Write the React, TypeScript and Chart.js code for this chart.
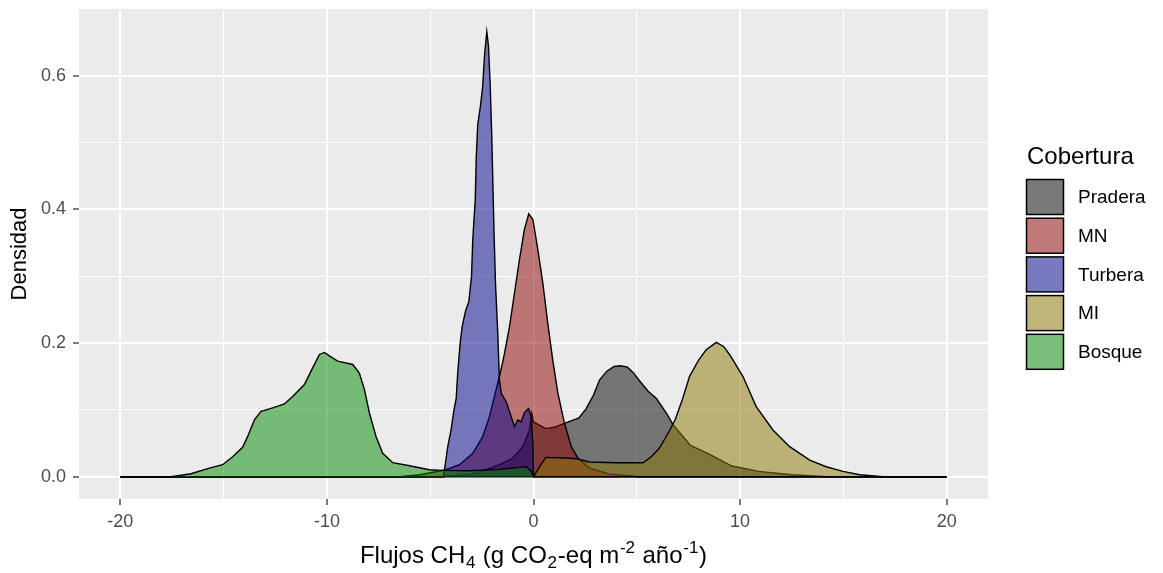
import React, { useEffect, useRef } from 'react';
import { Chart, registerables } from 'chart.js';

Chart.register(...registerables);

// ---------- data ----------
const categories = ['Pradera', 'MN', 'Turbera', 'MI', 'Bosque'];
const fillColors = [
  'rgba(0,0,0,0.5)',
  'rgba(139,0,0,0.5)',
  'rgba(0,0,139,0.5)',
  'rgba(139,117,0,0.5)',
  'rgba(0,139,0,0.5)',
];

const praderaX = [-20, -4.5, -3.0, -2.1, -1.5, -1.0, -0.52, -0.19, -0.08, 0.0, 0.3, 0.6, 1.0, 1.5, 2.2, 2.55, 2.9, 3.2, 3.55, 3.9, 4.2, 4.55, 4.85, 5.15, 5.55, 5.95, 6.44, 6.75, 7.6, 8.5, 9.6, 10.9, 12.5, 14.2, 20];
const praderaY = [0, 0, 0.004, 0.013, 0.02, 0.028, 0.045, 0.07, 0.095, 0.082, 0.077, 0.072, 0.074, 0.08, 0.088, 0.102, 0.122, 0.145, 0.158, 0.165, 0.166, 0.164, 0.155, 0.143, 0.128, 0.117, 0.095, 0.078, 0.047, 0.034, 0.016, 0.008, 0.003, 0, 0];

const mnX = [-20, -6.5, -5.5, -4.23, -3.58, -2.94, -2.46, -2.13, -1.73, -1.61, -1.40, -1.16, -0.92, -0.68, -0.44, -0.23, -0.03, 0.21, 0.45, 0.69, 0.93, 1.18, 1.50, 1.83, 2.15, 2.71, 3.68, 5.13, 20];
const mnY = [0, 0, 0.003, 0.0105, 0.018, 0.035, 0.06, 0.09, 0.14, 0.155, 0.185, 0.225, 0.275, 0.325, 0.37, 0.3935, 0.385, 0.34, 0.29, 0.23, 0.175, 0.125, 0.08, 0.045, 0.028, 0.013, 0.004, 0, 0];

const turberaX = [-20, -4.35, -4.31, -4.15, -3.99, -3.87, -3.74, -3.67, -3.55, -3.45, -3.29, -3.13, -3.00, -2.94, -2.82, -2.77, -2.70, -2.57, -2.46, -2.37, -2.26, -2.18, -2.10, -2.02, -1.96, -1.91, -1.84, -1.73, -1.65, -1.56, -1.32, -1.08, -0.92, -0.76, -0.60, -0.44, -0.24, -0.11, -0.03, 0, 20];
const turberaY = [0, 0, 0.0105, 0.045, 0.07, 0.096, 0.118, 0.155, 0.2, 0.225, 0.248, 0.262, 0.3, 0.355, 0.414, 0.479, 0.527, 0.554, 0.584, 0.631, 0.666, 0.645, 0.59, 0.51, 0.43, 0.365, 0.29, 0.215, 0.145, 0.125, 0.112, 0.09, 0.075, 0.085, 0.082, 0.096, 0.102, 0.09, 0.05, 0, 0];

const miX = [-20, 0, 0.3, 0.6, 1.5, 2.1, 2.7, 4.0, 5.3, 5.7, 6.1, 6.6, 6.85, 7.2, 7.55, 8.0, 8.36, 8.85, 9.2, 9.49, 10.14, 10.78, 11.59, 12.4, 13.37, 14.17, 14.98, 15.79, 16.92, 20];
const miY = [0, 0, 0.015, 0.029, 0.028, 0.027, 0.022, 0.021, 0.021, 0.03, 0.043, 0.07, 0.085, 0.115, 0.15, 0.175, 0.19, 0.201, 0.195, 0.183, 0.15, 0.105, 0.07, 0.045, 0.025, 0.015, 0.008, 0.003, 0, 0];

const bosqueX = [-20, -17.54, -16.58, -15.69, -15.05, -14.56, -14.08, -13.84, -13.51, -13.19, -12.62, -12.06, -11.66, -11.09, -10.69, -10.36, -10.12, -9.88, -9.48, -8.75, -8.43, -8.18, -7.94, -7.62, -7.30, -6.81, -6.00, -5.04, -4.39, -3.10, -1.65, -0.68, -0.34, -0.11, 0, 20];
const bosqueY = [0, 0, 0.0045, 0.013, 0.018, 0.030, 0.044, 0.060, 0.085, 0.098, 0.103, 0.109, 0.120, 0.138, 0.163, 0.183, 0.186, 0.181, 0.173, 0.168, 0.155, 0.130, 0.095, 0.060, 0.035, 0.021, 0.0165, 0.0105, 0.0095, 0.009, 0.011, 0.014, 0.015, 0.008, 0, 0];

const seriesX = [praderaX, mnX, turberaX, miX, bosqueX];
const seriesY = [praderaY, mnY, turberaY, miY, bosqueY];

const xMajorTicks = [-20, -10, 0, 10, 20];
const xMinorTicks = [-15, -5, 5, 15];
const xTickLabels = ['-20', '-10', '0', '10', '20'];
const yMajorTicks = [0, 0.2, 0.4, 0.6];
const yMinorTicks = [0.1, 0.3, 0.5];
const yTickLabels = ['0.0', '0.2', '0.4', '0.6'];

const yTitle = 'Densidad';
const xTitleParts = ['Flujos CH', '4', ' (g CO', '2', '-eq m', '-2', ' año', '-1', ')'];
const xTitleShifts = [0, -1, 0, -1, 0, 1, 0, 1, 0];
const legendTitle = 'Cobertura';

// ---------- layout ----------
const W = 1163;
const H = 573;
const FONT = '"Liberation Sans", Arial, Helvetica, sans-serif';

const idx = (arr: number[], v: number) => arr.findIndex((t) => Math.abs(t - v) < 1e-9);

const decor = {
  id: 'decor',
  beforeDraw(chart: any) {
    const { ctx, chartArea: a } = chart;
    ctx.save();
    ctx.fillStyle = '#FFFFFF';
    ctx.fillRect(0, 0, chart.width, chart.height);
    ctx.fillStyle = '#EBEBEB';
    ctx.fillRect(a.left, a.top, a.right - a.left, a.bottom - a.top);
    ctx.restore();
  },
  afterDraw(chart: any) {
    const { ctx, chartArea: a } = chart;
    // y title
    ctx.save();
    ctx.fillStyle = '#000000';
    ctx.font = `22px ${FONT}`;
    ctx.translate(26, (a.top + a.bottom) / 2);
    ctx.rotate(-Math.PI / 2);
    ctx.textAlign = 'center';
    ctx.textBaseline = 'alphabetic';
    ctx.fillText(yTitle, 0, 0);
    ctx.restore();

    // x title with sub/superscripts
    ctx.save();
    ctx.fillStyle = '#000000';
    ctx.textBaseline = 'alphabetic';
    ctx.textAlign = 'left';
    const mainFont = `24px ${FONT}`;
    const scriptFont = `17px ${FONT}`;
    let total = 0;
    const widths = xTitleParts.map((t, i) => {
      ctx.font = xTitleShifts[i] === 0 ? mainFont : scriptFont;
      const w = ctx.measureText(t).width + (xTitleShifts[i] === 0 ? 0 : 1.5);
      total += w;
      return w;
    });
    let x = (a.left + a.right) / 2 - total / 2;
    const base = 563;
    xTitleParts.forEach((t, i) => {
      const s = xTitleShifts[i];
      ctx.font = s === 0 ? mainFont : scriptFont;
      const y = s === 0 ? base : s < 0 ? base + 5 : base - 10;
      ctx.fillText(t, x + (s === 0 ? 0 : 0.75), y);
      x += widths[i];
    });
    ctx.restore();

    // legend
    ctx.save();
    ctx.fillStyle = '#000000';
    ctx.font = `24px ${FONT}`;
    ctx.textAlign = 'left';
    ctx.textBaseline = 'alphabetic';
    ctx.fillText(legendTitle, 1027, 164);
    const keyLeft = 1026.5;
    const keyTop = 179.5;
    const step = 38.7;
    const kw = 37;
    const kh = 35;
    categories.forEach((name, i) => {
      const top = keyTop + i * step;
      ctx.fillStyle = '#F2F2F2';
      ctx.fillRect(keyLeft, top, kw, kh);
      ctx.fillStyle = fillColors[i];
      ctx.fillRect(keyLeft, top, kw, kh);
      ctx.strokeStyle = '#000000';
      ctx.lineWidth = 1.5;
      ctx.strokeRect(keyLeft, top, kw, kh);
      ctx.fillStyle = '#000000';
      ctx.font = `19px ${FONT}`;
      ctx.textBaseline = 'middle';
      ctx.fillText(name, 1078, top + kh / 2 + 1);
    });
    ctx.restore();
  },
};

export default function App() {
  const ref = useRef<HTMLCanvasElement | null>(null);

  useEffect(() => {
    if (!ref.current) return;
    const datasets = categories.map((name, i) => ({
      label: name,
      data: seriesX[i].map((x, j) => ({ x, y: seriesY[i][j] })),
      borderColor: '#000000',
      borderWidth: 1.4,
      backgroundColor: fillColors[i],
      fill: 'origin',
      pointRadius: 0,
      pointHoverRadius: 0,
      tension: 0,
      order: categories.length - 1 - i,
    }));

    const chart = new Chart(ref.current, {
      type: 'line',
      data: { datasets },
      plugins: [decor],
      options: {
        responsive: false,
        animation: false,
        devicePixelRatio: 1,
        layout: { padding: { left: 0, top: 9, right: W - 988, bottom: 0 } },
        plugins: {
          legend: { display: false },
          tooltip: { enabled: false },
          title: { display: false },
        },
        scales: {
          x: {
            type: 'linear',
            min: -22,
            max: 22,
            afterBuildTicks: (axis: any) => {
              axis.ticks = [...xMajorTicks, ...xMinorTicks].sort((p, q) => p - q).map((v) => ({ value: v }));
            },
            afterFit: (s: any) => {
              s.height = H - 499;
              s.paddingLeft = 0;
              s.paddingRight = 0;
            },
            ticks: {
              autoSkip: false,
              maxRotation: 0,
              padding: 6,
              color: '#4D4D4D',
              font: { family: FONT, size: 18 },
              callback: (v: any) => {
                const k = idx(xMajorTicks, Number(v));
                return k >= 0 ? xTickLabels[k] : '';
              },
            },
            grid: {
              color: '#FFFFFF',
              lineWidth: (c: any) => (c.tick && idx(xMajorTicks, c.tick.value) >= 0 ? 2 : 1),
              tickColor: (c: any) => (c.tick && idx(xMajorTicks, c.tick.value) >= 0 ? '#333333' : 'rgba(0,0,0,0)'),
              tickWidth: 1.3,
              tickLength: 6,
              drawTicks: true,
            },
            border: { display: false },
          },
          y: {
            type: 'linear',
            min: -0.0333,
            max: 0.7,
            afterBuildTicks: (axis: any) => {
              axis.ticks = [...yMajorTicks, ...yMinorTicks].sort((p, q) => p - q).map((v) => ({ value: v }));
            },
            afterFit: (s: any) => {
              s.width = 79;
              s.paddingTop = 0;
              s.paddingBottom = 0;
            },
            ticks: {
              autoSkip: false,
              padding: 7,
              color: '#4D4D4D',
              font: { family: FONT, size: 18 },
              callback: (v: any) => {
                const k = idx(yMajorTicks, Number(v));
                return k >= 0 ? yTickLabels[k] : '';
              },
            },
            grid: {
              color: '#FFFFFF',
              lineWidth: (c: any) => (c.tick && idx(yMajorTicks, c.tick.value) >= 0 ? 2 : 1),
              tickColor: (c: any) => (c.tick && idx(yMajorTicks, c.tick.value) >= 0 ? '#333333' : 'rgba(0,0,0,0)'),
              tickWidth: 1.3,
              tickLength: 6,
              drawTicks: true,
            },
            border: { display: false },
          },
        },
      } as any,
    });
    return () => chart.destroy();
  }, []);

  return (
    <div style={{ position: 'fixed', left: 0, top: 0, width: W, height: H, background: '#FFFFFF' }}>
      <canvas ref={ref} width={W} height={H} style={{ display: 'block' }} />
    </div>
  );
}
